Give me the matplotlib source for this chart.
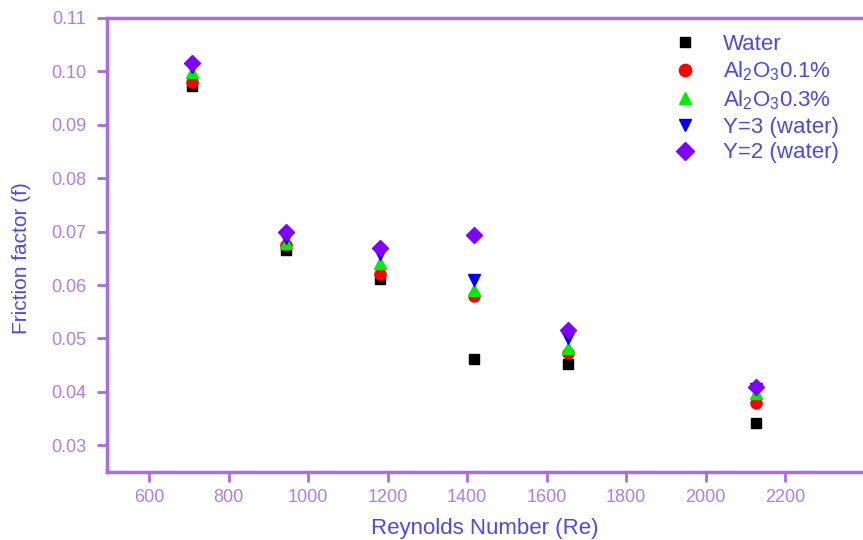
import matplotlib
matplotlib.use("Agg")
import matplotlib.pyplot as plt

plt.rcParams['font.family'] = ['Liberation Sans', 'DejaVu Sans']
plt.rcParams['mathtext.fontset'] = 'custom'
plt.rcParams['mathtext.rm'] = 'Liberation Sans'
plt.rcParams['mathtext.it'] = 'Liberation Sans'

reynolds = [709, 945, 1181, 1418, 1654, 2127]
water = [0.0973, 0.0666, 0.0612, 0.0462, 0.0452, 0.0342]
al2o3_01 = [0.0981, 0.0675, 0.0621, 0.0579, 0.0473, 0.0380]
al2o3_03 = [0.0998, 0.0679, 0.0641, 0.0591, 0.0482, 0.0398]
y3_water = [0.1008, 0.0688, 0.0658, 0.0610, 0.0501, 0.0405]
y2_water = [0.1015, 0.0700, 0.0669, 0.0694, 0.0515, 0.0409]

series = [
    ("Water", water, 's', 'black', 7),
    (r"Al$_2$O$_3$0.1%", al2o3_01, 'o', 'red', 8),
    (r"Al$_2$O$_3$0.3%", al2o3_03, '^', '#00EE00', 8),
    ("Y=3 (water)", y3_water, 'v', 'blue', 8),
    ("Y=2 (water)", y2_water, 'D', '#7F00FF', 8),
]

axis_col = '#A96BE6'
tick_col = '#B07CE8'
label_col = '#4A4AE6'

fig = plt.figure(figsize=(8.63, 5.40), dpi=100)
ax = fig.add_axes([107/863, 1-472/540, 1-107/863, (472-18)/540])

for name, vals, mk, col, ms in series:
    ax.plot(reynolds, vals, linestyle='none', marker=mk, color=col,
            markersize=ms, label=name)

ax.set_xlim(494, 2396)
ax.set_ylim(0.025, 0.11)
ax.set_xticks([600, 800, 1000, 1200, 1400, 1600, 1800, 2000, 2200])
ax.set_yticks([0.03, 0.04, 0.05, 0.06, 0.07, 0.08, 0.09, 0.10, 0.11])
ax.set_yticklabels(['0.03', '0.04', '0.05', '0.06', '0.07', '0.08', '0.09', '0.10', '0.11'])

for s in ['left', 'bottom', 'top']:
    ax.spines[s].set_color(axis_col)
    ax.spines[s].set_linewidth(2.5)
ax.spines['right'].set_visible(False)

ax.tick_params(axis='both', direction='out', length=7, width=2,
               color=axis_col, labelcolor=tick_col, labelsize=13)
ax.tick_params(axis='x', pad=5)
ax.tick_params(axis='y', pad=8)

ax.set_xlabel("Reynolds Number (Re)", color=label_col, fontsize=16, labelpad=9)
ax.set_ylabel("Friction factor (f)", color=label_col, fontsize=15)
ax.yaxis.set_label_coords(-0.101, 0.47)

leg = ax.legend(loc='upper left', bbox_to_anchor=(0.735, 0.985), frameon=False,
                fontsize=16, labelspacing=0.22, handletextpad=1.1,
                borderaxespad=0, handlelength=1.2, markerscale=1.1)
for t in leg.get_texts():
    t.set_color(label_col)

fig.savefig("out.png", dpi=100)
